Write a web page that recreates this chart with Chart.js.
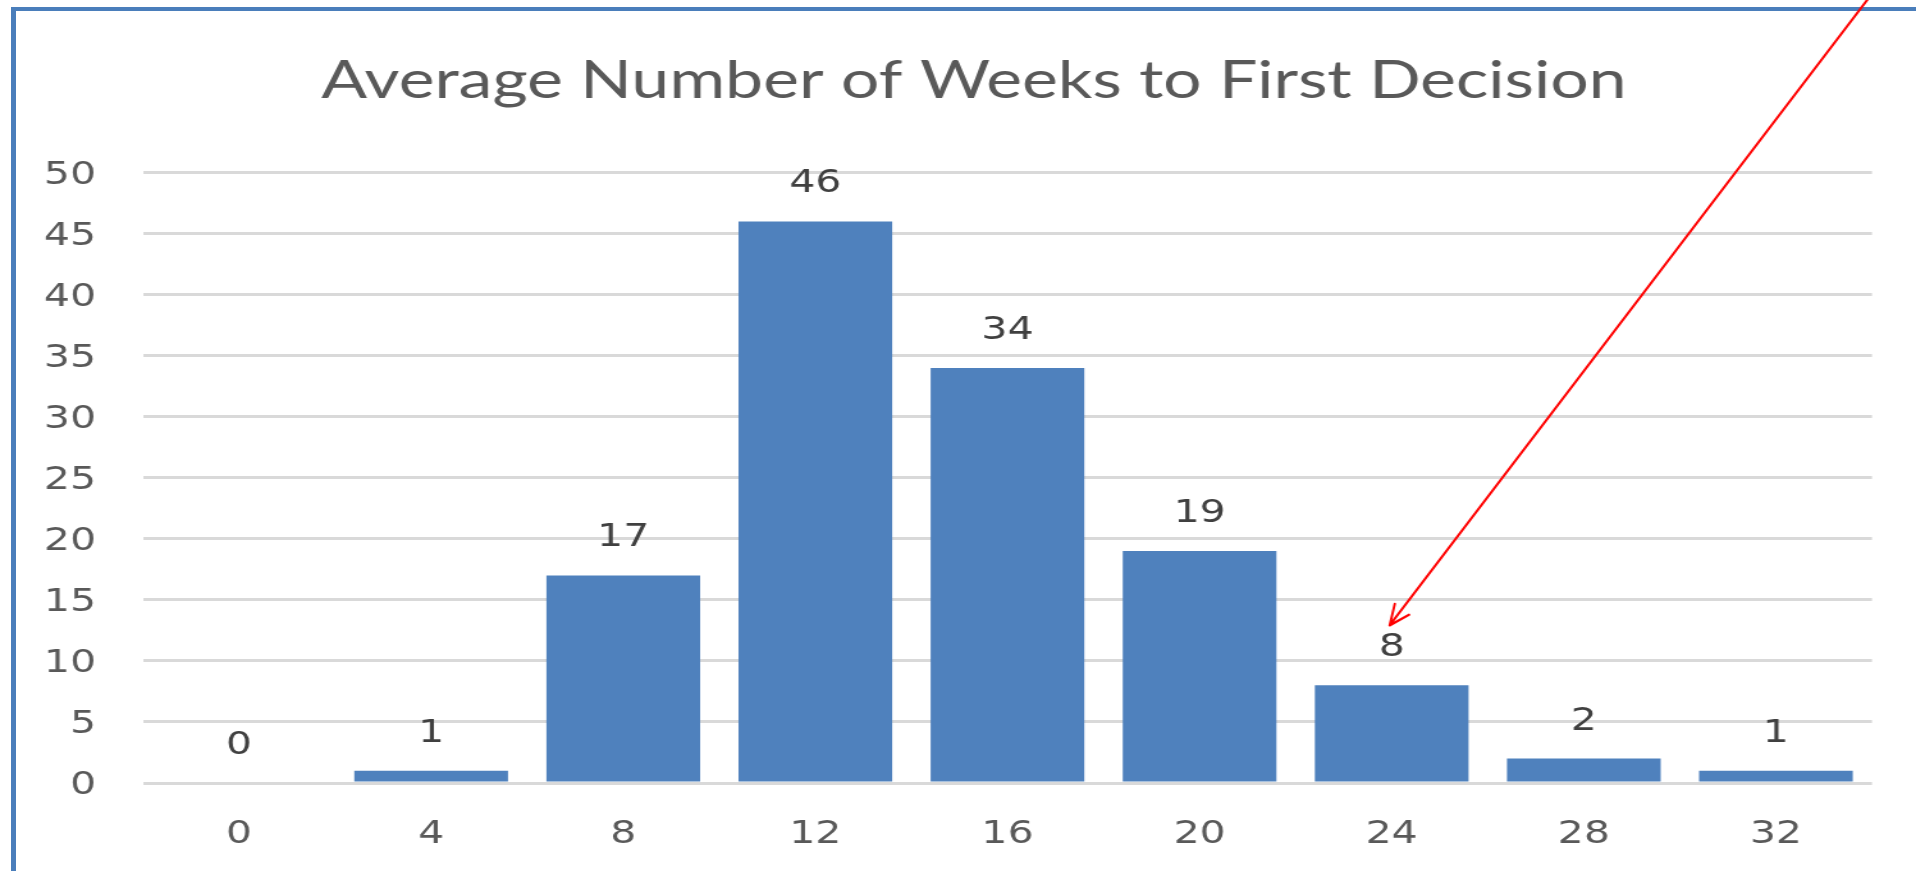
<!DOCTYPE html>
<html><head><meta charset="utf-8">
<script src="https://cdn.jsdelivr.net/npm/chart.js@4.4.1/dist/chart.umd.min.js"></script>
<style>
html,body{margin:0;padding:0;background:#fff;width:1916px;height:871px;overflow:hidden;}
#frame{position:absolute;left:11px;top:7px;width:1905px;height:864px;border-left:5px solid #4a7ebb;border-top:4px solid #4a7ebb;box-sizing:border-box;}
#c{position:absolute;left:0;top:0;transform-origin:0 0;}
</style></head><body>
<div id="frame"></div>
<canvas id="c" width="1497" height="871"></canvas>
<script>
// ---- data ----
const categories = ['0', '4', '8', '12', '16', '20', '24', '28', '32'];
const counts = [0, 1, 17, 46, 34, 19, 8, 2, 1];
const yMin = 0;
const yMax = 50;
const yStep = 5;
const chartTitle = 'Average Number of Weeks to First Decision';
const highlightedCategory = '24';

// ---- layout helpers ----
const STRETCH = 1916 / 1497;
const canvas = document.getElementById('c');
canvas.style.transform = 'scaleX(' + STRETCH + ')';
const FONT = 'Lato, "Open Sans", "DejaVu Sans", sans-serif';
const NUMFONT = '"DejaVu Sans", Verdana, sans-serif';

const unclipY = {
  id: 'unclipY',
  afterLayout(chart) { chart.scales.y.left = 0; }
};

const valueLabels = {
  id: 'valueLabels',
  afterDatasetsDraw(chart) {
    const ctx = chart.ctx;
    const meta = chart.getDatasetMeta(0);
    ctx.save();
    ctx.font = '32px ' + NUMFONT;
    ctx.fillStyle = '#404040';
    ctx.textAlign = 'center';
    ctx.textBaseline = 'alphabetic';
    meta.data.forEach((bar, i) => {
      ctx.fillText(String(counts[i]), bar.x, bar.y - 29);
    });
    ctx.restore();
  }
};

const pointerArrow = {
  id: 'pointerArrow',
  afterDraw(chart) {
    const ctx = chart.ctx;
    const meta = chart.getDatasetMeta(0);
    const bar = meta.data[categories.indexOf(highlightedCategory)];
    const tipX = bar.x * STRETCH - 2;
    const tipY = bar.y - 60;
    const ux = 0.607, uy = -0.795;
    const len = tipY / 0.795 + 10;
    ctx.save();
    ctx.scale(1 / STRETCH, 1);
    ctx.strokeStyle = '#ff0000';
    ctx.lineWidth = 2.4;
    ctx.lineCap = 'round';
    ctx.beginPath();
    ctx.moveTo(tipX, tipY);
    ctx.lineTo(tipX + ux * len, tipY + uy * len);
    const L = 22, a = 24 * Math.PI / 180;
    [1, -1].forEach(s => {
      const c = Math.cos(a), sn = Math.sin(a) * s;
      const wx = ux * c - uy * sn, wy = ux * sn + uy * c;
      ctx.moveTo(tipX, tipY);
      ctx.lineTo(tipX + wx * L, tipY + wy * L);
    });
    ctx.stroke();
    ctx.restore();
  }
};

new Chart(canvas, {
  type: 'bar',
  data: {
    labels: categories,
    datasets: [{
      data: counts,
      backgroundColor: '#4f81bd',
      borderWidth: 0,
      barPercentage: 0.8,
      categoryPercentage: 1.0
    }]
  },
  options: {
    responsive: false,
    devicePixelRatio: 1,
    animation: false,
    layout: { padding: { left: 59.4, right: 34.4, top: 0, bottom: 0 } },
    plugins: {
      legend: { display: false },
      tooltip: { enabled: false },
      title: {
        display: true,
        text: chartTitle,
        color: '#595959',
        font: { family: FONT, size: 53, weight: 'normal', lineHeight: 1.2 },
        padding: { top: 49, bottom: 60 }
      }
    },
    scales: {
      x: {
        grid: { display: false, drawTicks: false },
        border: { display: false },
        ticks: { color: '#595959', font: { family: NUMFONT, size: 32 }, padding: 32 },
        afterFit(scale) { scale.height = 88; }
      },
      y: {
        min: yMin,
        max: yMax,
        grid: { color: '#d9d9d9', lineWidth: 3, drawTicks: false },
        border: { display: false },
        ticks: { stepSize: yStep, color: '#595959', font: { family: NUMFONT, size: 32 }, padding: 36.7, labelOffset: 3 },
        afterFit(scale) { scale.width = 52.3; }
      }
    }
  },
  plugins: [unclipY, valueLabels, pointerArrow]
});
</script>
</body></html>
